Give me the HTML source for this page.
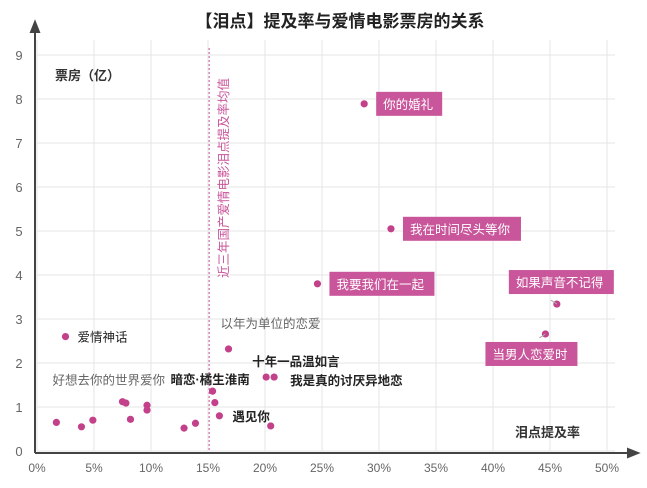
<!DOCTYPE html>
<html><head><meta charset="utf-8"><style>
html,body{margin:0;padding:0;background:#fff;}
svg{display:block;font-family:"Liberation Sans","Noto Sans CJK SC",sans-serif;}
</style></head><body>
<svg id="chart" width="647" height="488" viewBox="0 0 647 488">
<text x="340" y="27" text-anchor="middle" font-size="17" font-weight="bold" fill="#222">【泪点】提及率与爱情电影票房的关系</text>
<g id="grid"></g>
<g id="axes"></g>
<g id="marks"></g>
</svg>
<script>
const xTicks=[0,5,10,15,20,25,30,35,40,45,50];
const yTicks=[0,1,2,3,4,5,6,7,8,9];
const names=["你的婚礼","我在时间尽头等你","我要我们在一起","如果声音不记得","当男人恋爱时","爱情神话","以年为单位的恋爱","十年一品温如言","我是真的讨厌异地恋","好想去你的世界爱你","f2","f3","f4","暗恋·橘生淮南","f5","遇见你","f6","f7","f8","f9","f10","f11","f12"];
const rates=[28.7,31.05,24.6,45.6,44.6,2.5,16.8,20.1,20.8,7.5,7.8,9.65,9.65,15.4,15.6,16.0,1.7,3.9,4.9,8.2,12.9,13.9,20.5];
const boxOffice=[7.89,5.05,3.8,3.34,2.66,2.6,2.32,1.68,1.68,1.12,1.09,1.04,0.93,1.36,1.1,0.8,0.65,0.55,0.7,0.72,0.52,0.63,0.57];
const avgRate=[15.1];
const NS="http://www.w3.org/2000/svg";
const X=v=>37+v*11.4, Y=v=>451-v*44;
function mk(tag,attrs,parent,text){const e=document.createElementNS(NS,tag);for(const k in attrs)e.setAttribute(k,attrs[k]);if(text!==undefined)e.textContent=text;parent.appendChild(e);return e;}
const grid=document.getElementById('grid'),axes=document.getElementById('axes'),marks=document.getElementById('marks');
xTicks.forEach(t=>{
 const l=mk('line',{x1:X(t),x2:X(t),y1:40,y2:451,stroke:'#e6e6e6','stroke-width':1},grid);
 
 
 const tx=mk('text',{x:X(t),y:472,'text-anchor':'middle','font-size':12,fill:'#666'},axes,t+'%');
 
 
});
yTicks.forEach(t=>{
 const l=mk('line',{x1:37,x2:615,y1:Y(t),y2:Y(t),stroke:'#e6e6e6','stroke-width':1},grid);
 
 
 const tx=mk('text',{x:19,y:Y(t)+5,'text-anchor':'middle','font-size':13,fill:'#666'},axes,t);
 
 
});
const ya=mk('path',{d:'M35 453 L35 24 M31 32 L35 22 L39 32 Z',stroke:'#444','stroke-width':2,fill:'#444'},axes);


const xa=mk('path',{d:'M35 453 L636 453 M628 449 L638 453 L628 457 Z',stroke:'#444','stroke-width':2,fill:'#444'},axes);


const yt=mk('text',{x:55,y:80,'font-size':13,'font-weight':'bold',fill:'#333'},axes,'票房（亿）');


const xt=mk('text',{x:515,y:437,'font-size':13,'font-weight':'bold',fill:'#333'},axes,'泪点提及率');


const avl=mk('line',{x1:X(avgRate[0]),x2:X(avgRate[0]),y1:48,y2:451,stroke:'#c9559a','stroke-width':1,'stroke-dasharray':'2,2'},marks);


const avt=mk('text',{x:0,y:0,'font-size':12.5,fill:'#c9559a','text-anchor':'middle',transform:`translate(${X(avgRate[0])+19},178) rotate(-90)`},marks,'近三年国产爱情电影泪点提及率均值');


// label styles: [index, type, dx, dy]  type: box/bold/gray
const labels=[[0,'box',12,0],[1,'box',12,0],[2,'box',12,0],[3,'boxup',-48,-22],[4,'boxdn',-60,20],[5,'plain',12,0],[6,'gray',-8,-26],[7,'bold',-14,-16],[8,'bold',16,3],[9,'gray',-70,-22],[13,'bold',-42,-12],[15,'bold',13,0]];
rates.forEach((r,i)=>{
 const c=mk('circle',{cx:X(r),cy:Y(boxOffice[i]),r:3.6,fill:'#c2418a'},marks);
 
 
});
labels.forEach(([i,type,dx,dy])=>{
 const px=X(rates[i]),py=Y(boxOffice[i]);const n=names[i];
 const w=n.length*13+14;
 if(type.startsWith('box')){
  let bx=px+dx,by=py+dy-12;
  if(type==='box'){bx=px+dx;}
  if(type!=='box'){ // leader
   const ln=mk('line',{x1:px,y1:py,x2:px-6,y2:py+(dy<0?-4:4),stroke:'#aaa'},marks);
   
   
  }
  const rc=mk('rect',{x:bx,y:by,width:w,height:24,fill:'#c9559a'},marks);
  
  
  const t=mk('text',{x:bx+7,y:by+17,'font-size':12.5,fill:'#fff'},marks,n);
  
  
 }else{
  const fill=type==='gray'?'#666':'#222';
  const t=mk('text',{x:px+dx,y:py+dy+5,'font-size':12.5,fill:fill,'font-weight':type==='bold'?'bold':'normal'},marks,n);
  
  
 }
});
</script>
</body></html>
